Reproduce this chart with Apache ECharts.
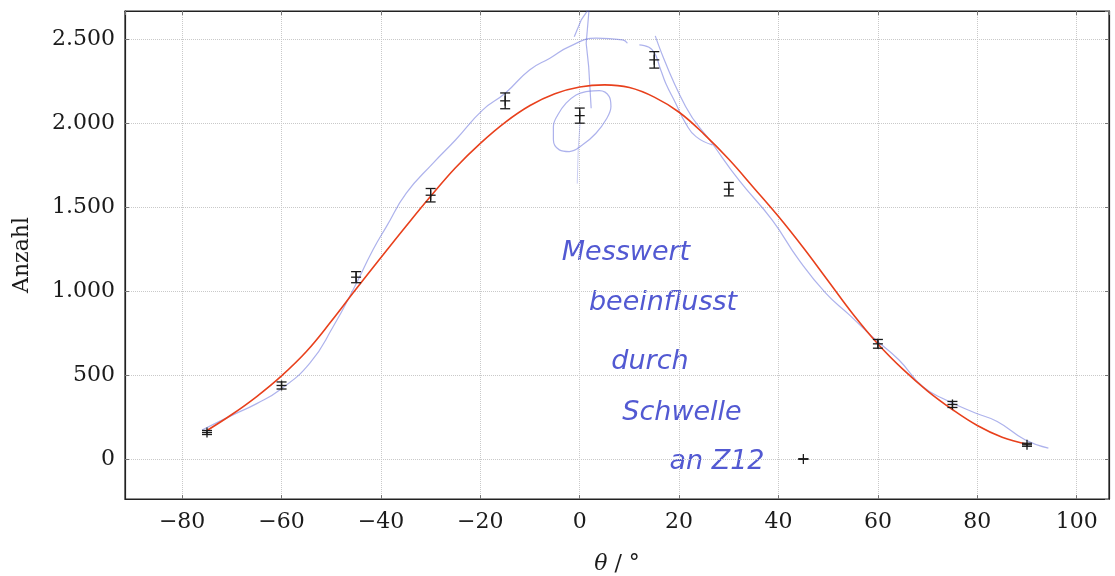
<!DOCTYPE html>
<html>
<head>
<meta charset="utf-8">
<title>Anzahl</title>
<script src="https://cdn.jsdelivr.net/npm/echarts@6/dist/echarts.min.js"></script>
<style>
html, body { margin: 0; padding: 0; background: #fff; }
#main { width: 1115px; height: 576px; }
</style>
</head>
<body>
<div id="main"></div>
<script>
// Messwerte mit Fehlerbalken
var winkel = [-75, -60, -45, -30, -15, 0, 15, 30, 45, 60, 75, 90];
var anzahl = [158, 438, 1083, 1571, 2133, 2045, 2377, 1607, 0, 686, 325, 85];
var fehler = [12, 21, 33, 40, 47, 45, 49, 40, 0, 26, 18, 9];

// Fitkurve (rot)
var fitWinkel = [-75, -70, -65, -60, -55, -50, -45, -40, -35, -30, -25, -20, -15, -10, -5, 0, 5, 10, 15, 20, 25, 30, 35, 40, 45, 50, 55, 60, 65, 70, 75, 80, 85, 90];
var fitWerte = [170, 265, 372, 495, 640, 820, 1012, 1200, 1385, 1565, 1735, 1880, 2005, 2105, 2175, 2215, 2228, 2212, 2155, 2065, 1935, 1785, 1616, 1444, 1258, 1060, 862, 685, 535, 405, 295, 200, 130, 88];

// handschriftliche Skizze (blau)
var skizzeAX = [-76, -70, -65, -60.3, -54.3, -49.6, -45.6, -41.6, -38.9, -34.9, -29.5, -25, -19.5, -15, -10.1, -6, -2.1, 3.3, 8.6, 9.6];
var skizzeAY = [173, 260, 330, 413, 571, 789, 1008, 1246, 1384, 1583, 1762, 1900, 2079, 2178, 2317, 2387, 2456, 2506, 2496, 2476];
var skizzeBX = [15.2, 21.3, 26.6, 32, 38.7, 44.1, 49.5, 54.2, 58.8, 64.2, 69, 73.6, 79.6, 84, 89.6, 94.3];
var skizzeBY = [2520, 2099, 1882, 1662, 1424, 1186, 988, 860, 730, 591, 432, 353, 274, 224, 115, 65];
var skizzeCX = [12, 14.6, 16.3, 17.3, 19.3, 21.3, 23.4, 26.7];
var skizzeCY = [2466, 2437, 2317, 2238, 2119, 2000, 1920, 1871];
var skizzeDX = [-0.5, -0.3, 0.1];
var skizzeDY = [1640, 1850, 2010];
var skizzeEX = [2.3, 1.8, 1.3, 1.9, 0.3, -1.1];
var skizzeEY = [2089, 2337, 2476, 2684, 2615, 2515];
var kreisX = [1.26, 3.94, 5.94, 6.28, 5.27, 3.27, 0.58, -2.09, -4.1, -5.3, -5.3, -4.43, -2.75, -0.74, 1.26];
var kreisY = [2188, 2194, 2158, 2099, 2020, 1940, 1871, 1831, 1841, 1901, 1980, 2049, 2119, 2168, 2188];

var notiz = ['Messwert', 'beeinflusst', 'durch', 'Schwelle', 'an Z12'];

function paare(xs, ys) {
    var out = [];
    for (var i = 0; i < xs.length; i++) {
        out.push([xs[i], ys[i]]);
    }
    return out;
}

function tausender(value) {
    var s = Math.abs(value).toString().replace(/\B(?=(\d{3})+(?!\d))/g, '.');
    return value < 0 ? '\u2212' + s : s;
}

function skizze(daten, smooth, breite, farbe) {
    return {
        type: 'line',
        data: daten,
        smooth: smooth,
        symbol: 'none',
        silent: true,
        z: 1,
        lineStyle: { color: farbe || 'rgba(105,115,220,0.55)', width: breite || 1.2 }
    };
}

function renderFehler(params, api) {
    var x = api.value(0), y = api.value(1), e = api.value(2);
    var oben = api.coord([x, y + e]);
    var unten = api.coord([x, y - e]);
    var mitte = api.coord([x, y]);
    var c = 5;
    var st = { stroke: '#1b1b1b', lineWidth: 1.3 };
    return {
        type: 'group',
        children: [
            { type: 'line', shape: { x1: oben[0], y1: oben[1], x2: unten[0], y2: unten[1] }, style: st },
            { type: 'line', shape: { x1: oben[0] - c, y1: oben[1], x2: oben[0] + c, y2: oben[1] }, style: st },
            { type: 'line', shape: { x1: unten[0] - c, y1: unten[1], x2: unten[0] + c, y2: unten[1] }, style: st },
            { type: 'line', shape: { x1: mitte[0] - c, y1: mitte[1], x2: mitte[0] + c, y2: mitte[1] }, style: st },
            { type: 'line', shape: { x1: mitte[0], y1: mitte[1] - c, x2: mitte[0], y2: mitte[1] + c }, style: st }
        ]
    };
}

var myChart = echarts.init(document.getElementById('main'));
var schrift = 'DejaVu Serif';
var blau = '#5259d2';

var notizPos = [[626, 253], [663, 303], [650, 362], [682, 413], [717, 462]];
var grafik = [];
for (var i = 0; i < notiz.length; i++) {
    grafik.push({
        type: 'text',
        x: notizPos[i][0],
        y: notizPos[i][1],
        silent: true,
        style: {
            text: notiz[i],
            fill: blau,
            fontSize: 27,
            fontStyle: 'italic',
            fontWeight: 300,
            fontFamily: 'DejaVu Sans',
            align: 'center',
            verticalAlign: 'middle'
        }
    });
}

var tickStil = { show: true, inside: true, length: 4, lineStyle: { color: '#777' } };
var gitter = { show: true, lineStyle: { color: '#c9c9c9', type: 'dotted', width: 1 } };
var rahmen = { show: true, onZero: false, lineStyle: { color: '#222', width: 1.2 } };
var beschriftung = {
    showMinLabel: false,
    showMaxLabel: false,
    fontFamily: schrift,
    fontSize: 22,
    color: '#1b1b1b',
    formatter: tausender
};

var option = {
    backgroundColor: '#fff',
    animation: false,
    grid: {
        left: 125,
        right: 6,
        top: 11,
        bottom: 77,
        show: true,
        borderColor: '#222',
        borderWidth: 1.2,
        containLabel: false,
        outerBoundsMode: 'none'
    },
    xAxis: [{
        type: 'value',
        min: -91.5,
        max: 106.5,
        splitNumber: 10,
        name: '{i|\u03b8} / \u00b0',
        nameLocation: 'middle',
        nameGap: 54,
        nameTextStyle: {
            fontFamily: schrift,
            fontSize: 22,
            color: '#1b1b1b',
            rich: { i: { fontFamily: schrift, fontStyle: 'italic', fontSize: 22, color: '#1b1b1b' } }
        },
        axisLine: rahmen,
        axisTick: tickStil,
        axisLabel: Object.assign({ margin: 12 }, beschriftung),
        splitLine: gitter
    }, {
        type: 'value',
        position: 'top',
        min: -91.5,
        max: 106.5,
        splitNumber: 10,
        axisLine: rahmen,
        axisTick: tickStil,
        axisLabel: { show: false },
        splitLine: { show: false }
    }],
    yAxis: [{
        type: 'value',
        min: -238,
        max: 2668,
        splitNumber: 6,
        name: 'Anzahl',
        nameLocation: 'middle',
        nameGap: 92,
        nameTextStyle: { fontFamily: schrift, fontSize: 22, color: '#1b1b1b' },
        axisLine: rahmen,
        axisTick: tickStil,
        axisLabel: Object.assign({ margin: 10 }, beschriftung),
        splitLine: gitter
    }, {
        type: 'value',
        position: 'right',
        min: -238,
        max: 2668,
        splitNumber: 6,
        axisLine: rahmen,
        axisTick: tickStil,
        axisLabel: { show: false },
        splitLine: { show: false }
    }],
    graphic: grafik,
    series: [
        skizze(paare(skizzeAX, skizzeAY), true),
        skizze(paare(skizzeBX, skizzeBY), true),
        skizze(paare(skizzeCX, skizzeCY), true),
        skizze(paare(skizzeDX, skizzeDY), false, 1, 'rgba(105,115,220,0.35)'),
        skizze(paare(skizzeEX, skizzeEY), false),
        skizze(paare(kreisX, kreisY), 0.4),
        {
            name: 'Fit',
            type: 'line',
            data: paare(fitWinkel, fitWerte),
            smooth: 0.4,
            symbol: 'none',
            z: 3,
            lineStyle: { color: '#e8401c', width: 1.6 }
        },
        {
            name: 'Messwerte',
            type: 'custom',
            z: 4,
            renderItem: renderFehler,
            encode: { x: 0, y: 1 },
            data: winkel.map(function (w, i) { return [w, anzahl[i], fehler[i]]; })
        }
    ]
};
myChart.setOption(option);
</script>
</body>
</html>
